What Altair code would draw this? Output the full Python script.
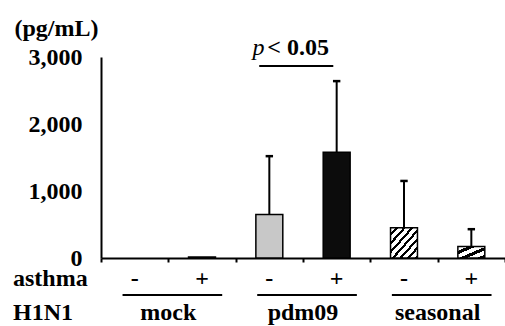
import altair as alt
import pandas as pd

# ---- data ----
h1n1 = ["mock", "mock", "pdm09", "pdm09", "seasonal", "seasonal"]
asthma = ["-", "+", "-", "+", "-", "+"]
mean_pg = [0, 15, 650, 1580, 450, 170]
sd_pg = [0, 0, 870, 1060, 700, 260]
group_names = ["mock", "pdm09", "seasonal"]
y_ticks = [0, 1000, 2000, 3000]
p_text = "< 0.05"

FONT = "Times New Roman"
FS = 24

df = pd.DataFrame({
    "idx": list(range(len(h1n1))),
    "h1n1": h1n1,
    "asthma": asthma,
    "mean": mean_pg,
    "sd": sd_pg,
})
df["pos"] = df["idx"] + 0.5
df["top"] = df["mean"] + df["sd"]

groups = pd.DataFrame({"g": list(range(len(group_names))), "name": group_names})
rows = pd.DataFrame({"lab": ["asthma", "H1N1"], "row": [0, 1]})

xscale = alt.Scale(domain=[0, 6], nice=False, zero=False)
yscale = alt.Scale(domain=[0, 3000], nice=False)


def stripes(n, dark=0.38):
    stops = []
    for k in range(n):
        a = k / n
        b = (k + 1 - dark) / n
        c = (k + 1) / n
        stops += [
            {"offset": a, "color": "white"},
            {"offset": b, "color": "white"},
            {"offset": b, "color": "black"},
            {"offset": c, "color": "black"},
        ]
    return {"gradient": "linear", "x1": 0, "y1": 0, "x2": 1, "y2": 1, "stops": stops}


fills = ["white", "#222222", "#c8c8c8", "#0c0c0c", stripes(7), stripes(3, 0.45)]

base = alt.Chart(df)

bar_layers = []
for i, f in enumerate(fills):
    bar_layers.append(
        base.transform_filter(f"datum.idx == {i} && datum.mean > 0")
        .transform_calculate(x0="datum.pos - 0.2", x1="datum.pos + 0.2")
        .mark_bar(fill=f, stroke="black", strokeWidth=1.5)
        .encode(
            x=alt.X("x0:Q", scale=xscale,
                    axis=alt.Axis(values=[0, 1, 2, 3, 4, 5, 6], labels=False, title=None,
                                  tickSize=4, tickWidth=2, tickColor="black",
                                  domainWidth=2, domainColor="black", grid=False)),
            x2="x1:Q",
            y=alt.Y("mean:Q", scale=yscale,
                    axis=alt.Axis(values=y_ticks, format=",d", title="(pg/mL)",
                                  titleAngle=0, titleAlign="left", titleBaseline="middle",
                                  titleX=-87, titleY=-29, titleFont=FONT, titleFontSize=FS,
                                  titleFontWeight="bold", titleColor="black",
                                  labelFont=FONT, labelFontSize=FS, labelFontWeight="bold",
                                  labelColor="black", labelPadding=19, ticks=False,
                                  labelOverlap=False,
                                  domainWidth=2, domainColor="black", grid=False)),
            y2=alt.datum(0),
        )
    )

err = base.transform_filter("datum.sd > 0")
err_line = err.mark_rule(color="black", strokeWidth=2).encode(
    x="pos:Q", y="mean:Q", y2="top:Q"
)
err_cap = err.transform_calculate(c0="datum.pos - 0.055", c1="datum.pos + 0.055").mark_rule(
    color="black", strokeWidth=2.5
).encode(x="c0:Q", x2="c1:Q", y="top:Q")

asthma_text = base.mark_text(font=FONT, fontSize=FS, fontWeight="bold", color="black").encode(
    x="pos:Q", y=alt.value(222), text="asthma:N"
)

gchart = alt.Chart(groups).transform_calculate(
    c="2 * datum.g + 1", a="2 * datum.g + 0.32", b="2 * datum.g + 1.8"
)
group_lines = gchart.mark_rule(color="black", strokeWidth=2).encode(
    x="a:Q", x2="b:Q", y=alt.value(238)
)
group_text = gchart.mark_text(font=FONT, fontSize=FS, fontWeight="bold", color="black").encode(
    x="c:Q", y=alt.value(256), text="name:N"
)

row_asthma = alt.Chart(rows).transform_filter("datum.row == 0").mark_text(
    font=FONT, fontSize=FS, fontWeight="bold", align="left", color="black"
).encode(x=alt.value(-88), y=alt.value(222), text="lab:N")
row_h1n1 = alt.Chart(rows).transform_filter("datum.row == 1").mark_text(
    font=FONT, fontSize=FS, fontWeight="bold", align="left", color="black"
).encode(x=alt.value(-88), y=alt.value(256), text="lab:N")

# significance annotation between pdm09 - and pdm09 +
sig = base.transform_filter("datum.idx == 2")
sig_line = sig.transform_calculate(a="datum.pos - 0.15", b="datum.pos + 0.95").mark_rule(
    color="black", strokeWidth=2
).encode(x="a:Q", x2="b:Q", y=alt.datum(2866))
sig_p = sig.transform_calculate(a="datum.pos - 0.07").mark_text(
    font=FONT, fontSize=FS, fontStyle="italic", align="right", color="black"
).encode(x="a:Q", y=alt.datum(3134), text=alt.value("p"))
sig_v = sig.transform_calculate(a="datum.pos - 0.03").mark_text(
    font=FONT, fontSize=FS, fontWeight="bold", align="left", color="black"
).encode(x="a:Q", y=alt.datum(3134), text=alt.value(p_text))

chart = alt.layer(
    *bar_layers, err_line, err_cap, asthma_text, group_lines, group_text,
    row_asthma, row_h1n1, sig_line, sig_p, sig_v
).properties(
    width=404, height=201,
    autosize=alt.AutoSizeParams(type="none"),
    padding={"left": 101, "top": 57, "right": 0, "bottom": 68},
).configure_view(stroke=None)

chart.save("out.html", embed_options={"renderer": "svg", "actions": False})
